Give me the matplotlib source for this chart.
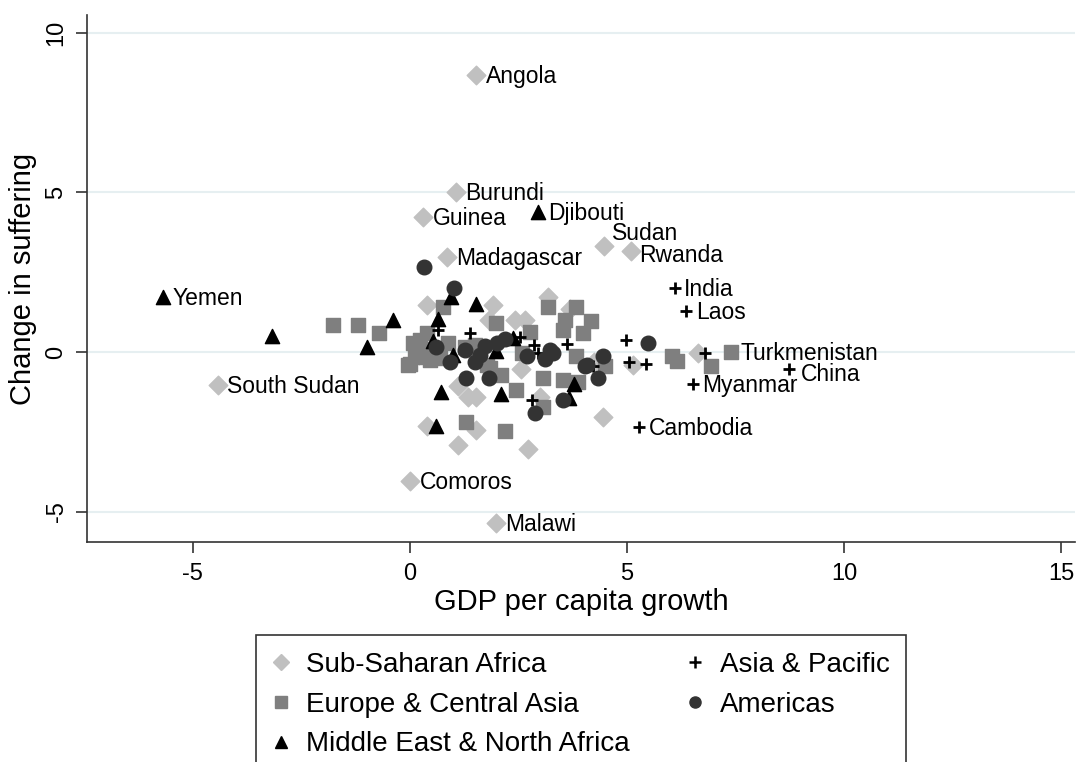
import matplotlib.pyplot as plt
from matplotlib.lines import Line2D

plt.rcParams['font.family'] = ['Liberation Sans', 'DejaVu Sans']
plt.rcParams['axes.unicode_minus'] = False

# Sub-Saharan Africa
ssa_x = [1.52, 1.06, 0.30, 0.85, 4.47, 5.09, -4.43, 0.00, 1.98,
         0.39, 1.91, 1.82, 2.42, 2.65, 3.18, 3.69, 2.56, 1.10, 1.34, 1.52,
         0.39, 1.52, 1.10, 2.72, 3.00, 4.45, 5.13, 6.64, 0.20, 4.25]
ssa_y = [8.67, 5.00, 4.23, 2.97, 3.32, 3.16, -1.03, -4.04, -5.35,
         1.47, 1.47, 1.00, 1.00, 1.00, 1.72, 1.35, -0.53, -1.06, -1.41, -1.41,
         -2.32, -2.44, -2.91, -3.04, -1.40, -2.03, -0.40, -0.02, -0.10, -0.30]
ssa_names = {0: 'Angola', 1: 'Burundi', 2: 'Guinea', 3: 'Madagascar', 4: 'Sudan',
             5: 'Rwanda', 6: 'South Sudan', 7: 'Comoros', 8: 'Malawi'}

# Europe & Central Asia
eca_x = [7.40, -1.77, -1.20, -0.71, 0.76, 1.98, 3.18, 3.82, 3.57, 4.17, 3.53, 3.99,
         2.76, 3.82, 4.49, 6.04, 6.15, 6.93, 3.06, 3.53, 3.87, 3.06, 2.44, 2.10,
         1.29, 2.19, 2.58, 1.77, 1.84, 0.07, 0.16, -0.05, 0.39, 0.23, 0.39, 0.46,
         0.69, 0.87, 1.27, 1.50, 0.00, 0.12, 0.55]
eca_y = [0.00, 0.85, 0.85, 0.59, 1.41, 0.90, 1.41, 1.41, 1.00, 0.97, 0.69, 0.59,
         0.63, -0.12, -0.44, -0.12, -0.27, -0.43, -0.81, -0.88, -0.94, -1.72, -1.19, -0.72,
         -2.19, -2.47, -0.03, -0.41, -0.50, 0.28, -0.16, -0.41, 0.59, 0.37, 0.06, -0.25,
         -0.19, 0.28, 0.16, 0.22, -0.38, 0.00, 0.10]
eca_names = {0: 'Turkmenistan'}

# Middle East & North Africa
mena_x = [-5.69, 2.95, -3.18, -0.99, -0.39, 0.94, 1.52, 0.64, 0.53, 0.99, 1.98,
          2.37, 0.71, 0.60, 2.10, 3.78, 3.66]
mena_y = [1.72, 4.38, 0.50, 0.16, 1.00, 1.72, 1.50, 1.03, 0.34, -0.09, 0.03,
          0.44, -1.25, -2.32, -1.31, -1.00, -1.44]
mena_names = {0: 'Yemen', 1: 'Djibouti'}

# Asia & Pacific
ap_x = [6.10, 6.36, 8.73, 6.52, 5.28, 0.64, 1.38, 2.53, 2.86, 3.62, 2.95,
        4.22, 4.98, 5.05, 5.44, 6.80, 2.81]
ap_y = [2.00, 1.28, -0.53, -1.00, -2.35, 0.69, 0.59, 0.47, 0.22, 0.25, -0.03,
        -0.44, 0.37, -0.30, -0.37, -0.02, -1.50]
ap_names = {0: 'India', 1: 'Laos', 2: 'China', 3: 'Myanmar', 4: 'Cambodia'}

# Americas
am_x = [0.32, 1.01, 0.60, 0.92, 1.27, 1.50, 1.61, 1.73, 2.00, 2.19, 2.70, 3.11,
        3.23, 3.30, 4.08, 4.45, 4.33, 5.49, 4.03, 1.82, 1.29, 3.53, 2.88]
am_y = [2.66, 2.00, 0.16, -0.31, 0.06, -0.31, -0.09, 0.19, 0.28, 0.41, -0.12, -0.22,
        0.06, -0.03, -0.41, -0.12, -0.81, 0.28, -0.44, -0.81, -0.81, -1.50, -1.91]

regions = [
    ('Sub-Saharan Africa', ssa_x, ssa_y, ssa_names, dict(marker='D', s=90, color='#c0c0c0')),
    ('Europe & Central Asia', eca_x, eca_y, eca_names, dict(marker='s', s=95, color='#7f7f7f')),
    ('Middle East & North Africa', mena_x, mena_y, mena_names, dict(marker='^', s=105, color='black')),
    ('Asia & Pacific', ap_x, ap_y, ap_names, dict(marker='+', s=70, color='black', linewidths=2)),
    ('Americas', am_x, am_y, {}, dict(marker='o', s=110, color='#333333')),
]

# labels that sit a bit off the marker instead of level with it (dx, dy in points)
label_offset = {'Sudan': (6, 9), 'Rwanda': (6, -3), 'China': (9, -4)}

fig = plt.figure(figsize=(10.78, 7.62), dpi=100)
ax = fig.add_axes([0.0807, 0.2887, 0.9163, 0.6913])

for name, xs, ys, names, style in regions:
    ax.scatter(xs, ys, zorder=3, **style)
    for i, label in names.items():
        ax.annotate(label, (xs[i], ys[i]), xytext=label_offset.get(label, (7, -1)),
                    textcoords='offset points', va='center', ha='left',
                    fontsize=16.5, zorder=4)

ax.set_xlim(-7.44, 15.32)
ax.set_ylim(-5.95, 10.55)
ax.set_xticks([-5, 0, 5, 10, 15])
ax.set_yticks([-5, 0, 5, 10])
ax.set_yticklabels(['-5', '0', '5', '10'], rotation=90, va='center')
ax.tick_params(labelsize=17, length=8, width=1.2, color='#333333')
ax.tick_params(axis='x', pad=7)
ax.tick_params(axis='y', pad=6)
ax.grid(axis='y', color='#e6eff1', linewidth=1.5, zorder=0)
ax.set_axisbelow(True)
for side in ['top', 'right']:
    ax.spines[side].set_visible(False)
for side in ['left', 'bottom']:
    ax.spines[side].set_color('#333333')
    ax.spines[side].set_linewidth(1.2)

ax.set_xlabel('GDP per capita growth', fontsize=21, labelpad=2)
ax.set_ylabel('Change in suffering', fontsize=21, labelpad=6)

handles = [
    Line2D([], [], linestyle='none', marker='D', markersize=8, color='#c0c0c0'),
    Line2D([], [], linestyle='none', marker='s', markersize=8, color='#7f7f7f'),
    Line2D([], [], linestyle='none', marker='^', markersize=8, color='black'),
    Line2D([], [], linestyle='none', marker='+', markersize=8, color='black', markeredgewidth=1.8),
    Line2D([], [], linestyle='none', marker='o', markersize=8, color='#333333'),
]
labels = [r[0] for r in regions]
leg = fig.legend(handles, labels, ncol=2, loc='upper left', bbox_to_anchor=(0.2375, 0.1667),
                 fontsize=20, frameon=True, fancybox=False, edgecolor='black',
                 handlelength=0.6, handletextpad=0.6, columnspacing=2.05,
                 labelspacing=0.5, borderpad=0.6, borderaxespad=0)
leg.get_frame().set_linewidth(1.2)

fig.savefig('out.png', dpi=100)
